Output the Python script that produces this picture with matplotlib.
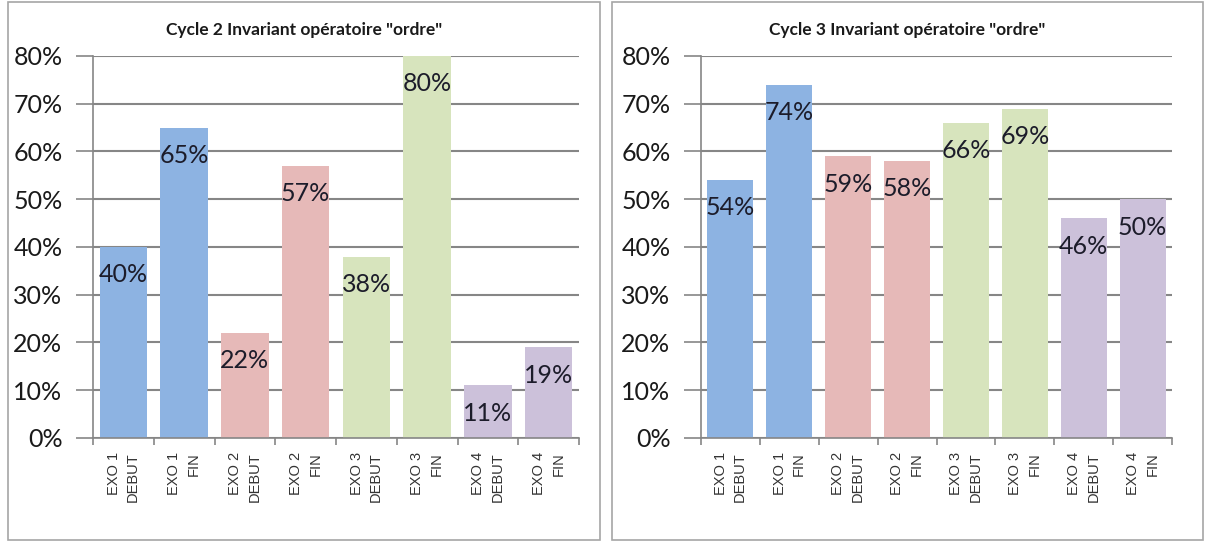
import matplotlib.pyplot as plt
from matplotlib.patches import Rectangle

# données
categories = ['EXO 1\nDEBUT', 'EXO 1\nFIN', 'EXO 2\nDEBUT', 'EXO 2\nFIN',
              'EXO 3\nDEBUT', 'EXO 3\nFIN', 'EXO 4\nDEBUT', 'EXO 4\nFIN']
cycle2 = [40, 65, 22, 57, 38, 80, 11, 19]
cycle3 = [54, 74, 59, 58, 66, 69, 46, 50]
titles = ['Cycle 2 Invariant opératoire "ordre"', 'Cycle 3 Invariant opératoire "ordre"']
colors = ['#8DB3E2', '#8DB3E2', '#E6B9B8', '#E6B9B8',
          '#D7E4BD', '#D7E4BD', '#CCC1DA', '#CCC1DA']
yticks = [0, 10, 20, 30, 40, 50, 60, 70, 80]

fig = plt.figure(figsize=(12.05, 5.42), dpi=100)

# cadres des deux graphiques
for x0, w in [(8, 592), (612, 591)]:
    fig.patches.append(Rectangle((x0 / 1205, 2 / 542), w / 1205, 538 / 542,
                                 transform=fig.transFigure, fill=False,
                                 edgecolor='#A6A6A6', linewidth=1.2))

axes_pos = [[93 / 1205, 0.1919, 486 / 1205, 0.7048],
            [701 / 1205, 0.1919, 471 / 1205, 0.7048]]
title_x = [304 / 1205, 907 / 1205]

for pos, values, title, tx in zip(axes_pos, [cycle2, cycle3], titles, title_x):
    ax = fig.add_axes(pos)
    x = range(len(categories))
    ax.bar(x, values, width=0.78, color=colors, zorder=2)
    for xi, v in zip(x, values):
        ax.annotate('%d%%' % v, (xi, v), xytext=(0, -20), textcoords='offset points',
                    ha='center', va='center', fontsize=18, family='Lato',
                    color='#1C1C2A', zorder=3)

    ax.set_ylim(0, 80)
    ax.set_xlim(-0.5, len(categories) - 0.5)
    ax.set_yticks(yticks)
    ax.set_yticklabels(['%d%%' % t for t in yticks], fontsize=18, family='Lato',
                       color='#1A1A1A')
    ax.yaxis.grid(True, color='#868686', linewidth=1.5, zorder=0)
    ax.tick_params(axis='y', length=12, color='#868686', width=1.2, pad=10)

    ax.set_xticks(list(x))
    ax.set_xticklabels(categories, rotation=90, fontsize=10.5, family='Liberation Sans',
                       va='top', ha='center', multialignment='right', color='#333333',
                       linespacing=1.5)
    ax.set_xticks([i + 0.5 for i in range(-1, len(categories))], minor=True)
    ax.tick_params(axis='x', which='major', length=0, pad=10)
    ax.tick_params(axis='x', which='minor', length=5, color='#868686', width=1.2)

    for s in ['top', 'right']:
        ax.spines[s].set_visible(False)
    for s in ['left', 'bottom']:
        ax.spines[s].set_color('#868686')
        ax.spines[s].set_linewidth(1.2)

    fig.text(tx, 0.945, title, ha='center', va='center', fontsize=12.5,
             family='Lato', weight='bold', color='#1A1A1A')

plt.savefig('out.png', dpi=100)
